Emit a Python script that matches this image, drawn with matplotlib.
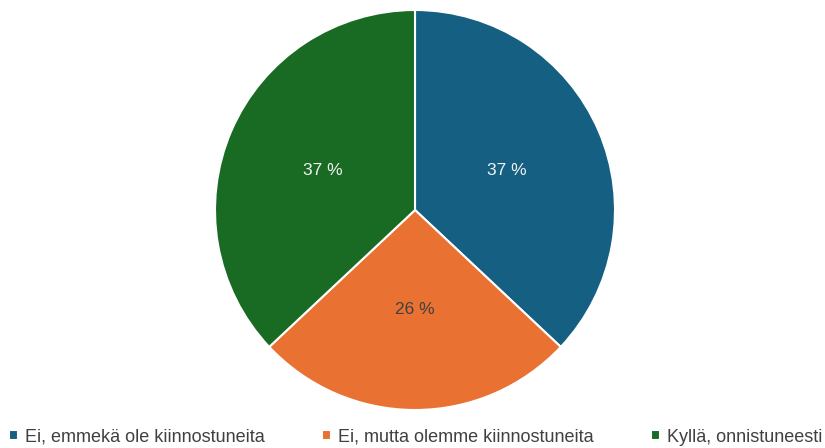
import matplotlib
import matplotlib.pyplot as plt

matplotlib.use("agg")

labels = ["Ei, emmekä ole kiinnostuneita", "Ei, mutta olemme kiinnostuneita", "Kyllä, onnistuneesti"]
values = [37, 26, 37]
colors = ["#156082", "#E97132", "#196B24"]
text_colors = ["#F2F2F2", "#404040", "#F2F2F2"]

plt.rcParams["font.family"] = ["Liberation Sans", "DejaVu Sans"]

fig = plt.figure(figsize=(8.25, 4.48), dpi=100)
ax = fig.add_axes([215 / 825, 38 / 448, 400 / 825, 400 / 448])

wedges, texts, autotexts = ax.pie(
    values,
    colors=colors,
    startangle=90,
    counterclock=False,
    autopct=lambda p: f"{p:.0f} %",
    pctdistance=0.5,
    wedgeprops=dict(edgecolor="white", linewidth=1.5),
    textprops=dict(fontsize=12.5),
)
for t, c in zip(autotexts, text_colors):
    t.set_color(c)
ax.set_xlim(-1, 1)
ax.set_ylim(-1, 1)
ax.set_aspect("equal")

fig.legend(
    wedges, labels,
    loc="center", bbox_to_anchor=(0.504, 11 / 448),
    ncol=3, frameon=False, fontsize=13,
    handlelength=0.5, handleheight=0.5, handletextpad=0.4,
    columnspacing=3.15, labelcolor="#404040",
)

fig.savefig("out.png", dpi=100, facecolor="white")
